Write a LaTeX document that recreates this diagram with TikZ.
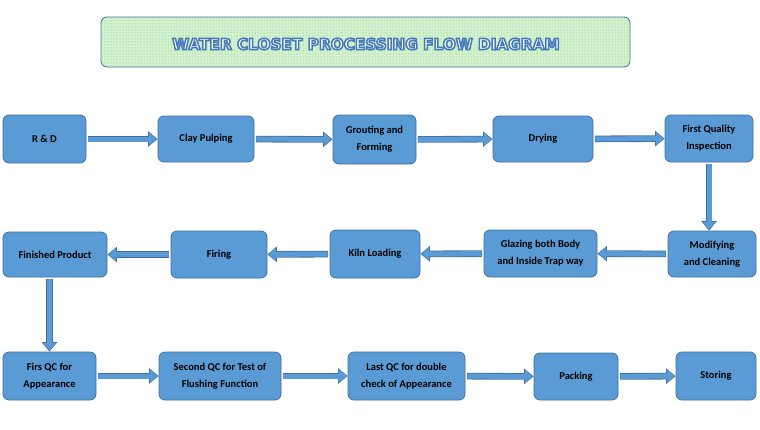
\documentclass[tikz,border=0pt]{standalone}
\usepackage{fontspec}
\setmainfont{Carlito}
\newfontfamily\titulofont{DejaVu Sans}
\usetikzlibrary{arrows.meta,patterns}

\definecolor{relleno}{HTML}{5B9BD5}
\definecolor{borde}{HTML}{41719C}
\definecolor{verdoso}{HTML}{D5F2D0}

\tikzset{
  estilo diagrama/.style={
      x=1pt, y=-1pt,
      caja/.style={rectangle, rounded corners=6pt, draw=borde, line width=0.8pt, fill=relleno,
          align=center, inner sep=2pt, font={\fontsize{10.5}{17}\selectfont\bfseries}},
      flecha/.style={draw=relleno, line width=5pt, shorten >=1.2pt, shorten <=2pt,
          -{Triangle[length=7.5pt, width=12.5pt]},
          preaction={draw=borde, line width=6.6pt, shorten >=0pt, shorten <=1.5pt,
              -{Triangle[length=9.5pt, width=15pt]}}},
    },
}

\begin{document}
\begin{tikzpicture}[estilo diagrama]
  \useasboundingbox (0,0) rectangle (760,429);

  % titulo
  \draw[borde, line width=0.8pt, fill=verdoso, rounded corners=6pt] (101,17) rectangle (630,67);
  \fill[pattern=dots, pattern color=green!60!black!60] (102,18) rectangle (629,66);
  \node[font={\titulofont\bfseries\fontsize{15.3}{17}\selectfont}] (titulo) at (366,44)
     {\color{white}\special{pdf:literal 2 Tr 1.5 w 0.27 0.47 0.72 RG}WATER CLOSET PROCESSING FLOW DIAGRAM\special{pdf:literal 0 Tr}};

  % primera fila
  \node[caja, minimum width=83pt, minimum height=48pt] (rd) at (44.5,139) {R \& D};
  \node[caja, minimum width=96pt, minimum height=46pt] (clay) at (206,139) {Clay Pulping};
  \node[caja, minimum width=83pt, minimum height=49pt] (grout) at (374.5,139.5) {Grouting and\\Forming};
  \node[caja, minimum width=100pt, minimum height=46pt] (dry) at (543,139) {Drying};
  \node[caja, minimum width=88pt, minimum height=47pt] (fqi) at (709,138.5) {First Quality\\Inspection};

  % segunda fila
  \node[caja, minimum width=88pt, minimum height=46pt] (mod) at (712,254) {Modifying\\and Cleaning};
  \node[caja, minimum width=113pt, minimum height=47pt] (glaz) at (540.5,253.5) {Glazing both Body\\and Inside Trap way};
  \node[caja, minimum width=90pt, minimum height=48pt] (kiln) at (375,254) {Kiln Loading};
  \node[caja, minimum width=96pt, minimum height=47pt] (firing) at (219,254.5) {Firing};
  \node[caja, minimum width=104pt, minimum height=45pt] (fin) at (55,254.5) {Finished Product};

  % tercera fila
  \node[caja, minimum width=93pt, minimum height=48pt] (qc1) at (49.5,376) {Firs QC for\\Appearance};
  \node[caja, minimum width=122pt, minimum height=48pt] (qc2) at (220,376) {Second QC for Test of\\Flushing Function};
  \node[caja, minimum width=117pt, minimum height=48pt] (qc3) at (406.5,376) {Last QC for double\\check of Appearance};
  \node[caja, minimum width=84pt, minimum height=47pt] (pack) at (576,376.5) {Packing};
  \node[caja, minimum width=80pt, minimum height=48pt] (stor) at (716,376) {Storing};

  \draw[flecha] (rd) -- (clay);
  \draw[flecha] (clay) -- (grout);
  \draw[flecha] (grout) -- (dry);
  \draw[flecha] (dry) -- (fqi);
  \draw[flecha] (fqi.south) -- (fqi.south |- mod.north);
  \draw[flecha] (mod) -- (glaz);
  \draw[flecha] (glaz) -- (kiln);
  \draw[flecha] (kiln) -- (firing);
  \draw[flecha] (firing) -- (fin);
  \draw[flecha] (fin.south -| qc1.north) -- (qc1.north);
  \draw[flecha] (qc1) -- (qc2);
  \draw[flecha] (qc2) -- (qc3);
  \draw[flecha] (qc3) -- (pack);
  \draw[flecha] (pack) -- (stor);
\end{tikzpicture}
\end{document}
